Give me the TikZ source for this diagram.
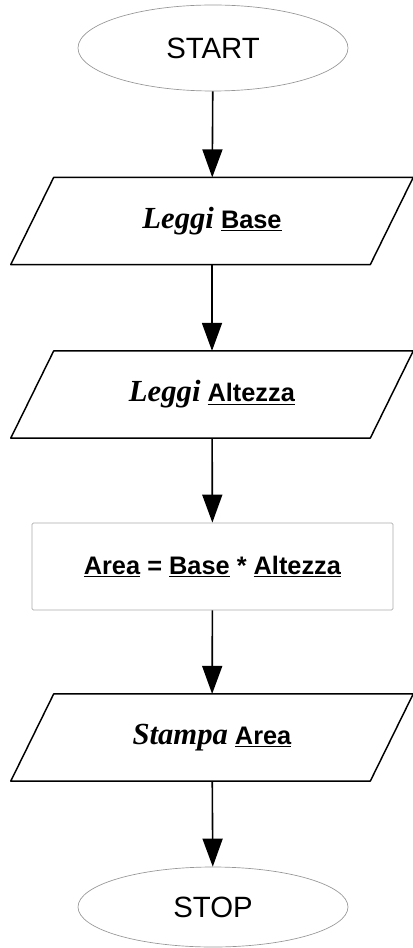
\documentclass[tikz,border=0pt]{standalone}
\usepackage{fontspec}
\setmainfont{Liberation Serif}
\setsansfont{Liberation Sans}
\usetikzlibrary{shapes.geometric,arrows.meta}
\newcommand{\vname}[1]{\underline{\textbf{#1}}}
\newcommand{\verbo}[1]{{\rmfamily\bfseries\itshape\fontsize{23}{27}\selectfont #1}}

\begin{document}
\begin{tikzpicture}[x=0.75pt,y=0.75pt,yscale=-1,xscale=1,
	terminal/.style={ellipse,draw={rgb,255:red,150;green,150;blue,150},line width=0.5pt,minimum width=202.5pt,inner sep=0pt,font=\sffamily\fontsize{22}{26}\selectfont},
	iobox/.style={rectangle,minimum width=269.25pt,minimum height=65pt,inner sep=0pt,font=\sffamily\fontsize{19}{23}\selectfont},
	ioframe/.style={line width=1.1pt,line join=round},
	procbox/.style={rectangle,rounded corners=1pt,draw={rgb,255:red,170;green,170;blue,170},line width=0.6pt,minimum width=270.75pt,minimum height=65.25pt,font=\sffamily\fontsize{19}{23}\selectfont},
	flow/.style={-{Triangle[length=21pt,width=15pt]},line width=1.2pt}]
	%set diagram size to the reference
	\useasboundingbox (0,0) rectangle (413,948);
	
	\node [terminal,minimum height=64.5pt] (start) at (213,48) {START};
	\node [iobox] (readbase) at (212,221) {\verbo{Leggi} \vname{Base}};
	\node [iobox] (readalt) at (212,394.5) {\verbo{Leggi} \vname{Altezza}};
	\node [procbox] (calc) at (212.5,566.5) {\vname{Area} \textbf{=} \vname{Base} \textbf{*} \vname{Altezza}};
	\node [iobox] (print) at (212,737.5) {\verbo{Stampa} \vname{Area}};
	\node [terminal,minimum height=60pt] (stop) at (213,907) {STOP};
	
	% slanted frames of the input/output boxes
	\foreach \n in {readbase,readalt,print}
		\draw [ioframe] ([xshift=16.1pt]\n.north west) -- ([xshift=16.1pt]\n.north east) -- ([xshift=-16.1pt]\n.south east) -- ([xshift=-16.1pt]\n.south west) -- cycle;
	
	\draw [flow] (start) -- (readbase);
	\draw [flow] (readbase) -- (readalt);
	\draw [flow] (readalt) -- (calc);
	\draw [flow] (calc) -- (print);
	\draw [flow] (print) -- (stop);
	
\end{tikzpicture}
\end{document}
